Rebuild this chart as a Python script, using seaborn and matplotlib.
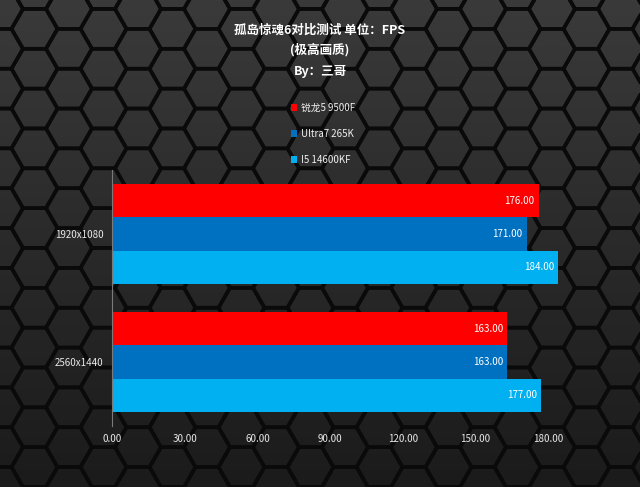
import numpy as np
import pandas as pd
import seaborn as sns
import matplotlib.pyplot as plt
from matplotlib.patches import RegularPolygon

resolutions = ['1920x1080', '2560x1440']
cpus = ['锐龙5 9500F', 'Ultra7 265K', 'I5 14600KF']
fps_r5 = [176, 163]
fps_u7 = [171, 163]
fps_i5 = [184, 177]
colors = ['#FF0000', '#0070C0', '#00B0F0']
xticks = [0, 30, 60, 90, 120, 150, 180]

sns.set_theme(style='white')
plt.rcParams['font.family'] = ['Noto Sans CJK SC', 'DejaVu Sans']

df = pd.DataFrame({
    'res': resolutions * 3,
    'cpu': [c for c in cpus for _ in resolutions],
    'fps': fps_r5 + fps_u7 + fps_i5,
})

fig = plt.figure(figsize=(6.4, 4.87), dpi=100)

# hexagon background
bg = fig.add_axes([0, 0, 1, 1], zorder=0)
grad = np.linspace(0, 1, 256).reshape(-1, 1)
bg.imshow(grad, aspect='auto', extent=(0, 640, 0, 487), origin='lower',
          cmap=sns.blend_palette(['#1b1b1b', '#2a2a2a', '#3a3a3a'], as_cmap=True))
r = 23
dx = 1.5 * r
dy = np.sqrt(3) * r
for i in range(-1, int(640 / dx) + 2):
    for j in range(-1, int(487 / dy) + 2):
        cx = i * dx
        cy = j * dy + (dy / 2 if i % 2 else 0)
        bg.add_patch(RegularPolygon((cx, cy), 6, radius=r, orientation=np.pi / 6,
                                    facecolor='none', edgecolor='#0a0a0a', lw=2.6))
bg.set_xlim(0, 640)
bg.set_ylim(0, 487)
bg.axis('off')

ax = fig.add_axes([112 / 640, 1 - 426 / 487, 480 / 640, 256 / 487], zorder=1)
ax.patch.set_alpha(0)
sns.barplot(data=df, x='fps', y='res', hue='cpu', hue_order=cpus, order=resolutions,
            palette=colors, orient='h', width=0.78, saturation=1, linewidth=0, ax=ax)

for p in ax.patches:
    w = p.get_width()
    if p.get_height() > 0 and w > 0:
        ax.annotate(f'{w:.2f}', (w, p.get_y() + p.get_height() / 2),
                    xytext=(-3, 0), textcoords='offset points',
                    ha='right', va='center', color='white', fontsize=7)

ax.set_xlim(0, 198)
ax.set_xticks(xticks)
ax.set_xticklabels([f'{t:.2f}' for t in xticks])
ax.tick_params(axis='both', colors='#e8e8e8', labelsize=7, length=0, pad=6)
ax.set_xlabel('')
ax.set_ylabel('')
for s in ['top', 'right', 'bottom']:
    ax.spines[s].set_visible(False)
ax.spines['left'].set_color('#7a7a7a')
ax.spines['left'].set_linewidth(0.8)

leg = ax.legend(loc='upper left', bbox_to_anchor=(286 / 640, 1 - 98 / 487),
                bbox_transform=fig.transFigure, frameon=False, fontsize=7,
                handlelength=0.6, handleheight=0.6, handletextpad=0.4,
                labelspacing=1.65, borderpad=0)
for h in leg.legend_handles:
    h.set_linewidth(0)
for t in leg.get_texts():
    t.set_color('#f0f0f0')

fig.text(0.5, 1 - 30 / 487, '孤岛惊魂6对比测试 单位：FPS', ha='center', va='center',
         color='white', fontsize=9, fontweight='bold')
fig.text(0.5, 1 - 50 / 487, '(极高画质)', ha='center', va='center',
         color='white', fontsize=9, fontweight='bold')
fig.text(0.5, 1 - 71 / 487, 'By：三哥', ha='center', va='center',
         color='white', fontsize=9, fontweight='bold')

fig.savefig('out.png', dpi=100)
